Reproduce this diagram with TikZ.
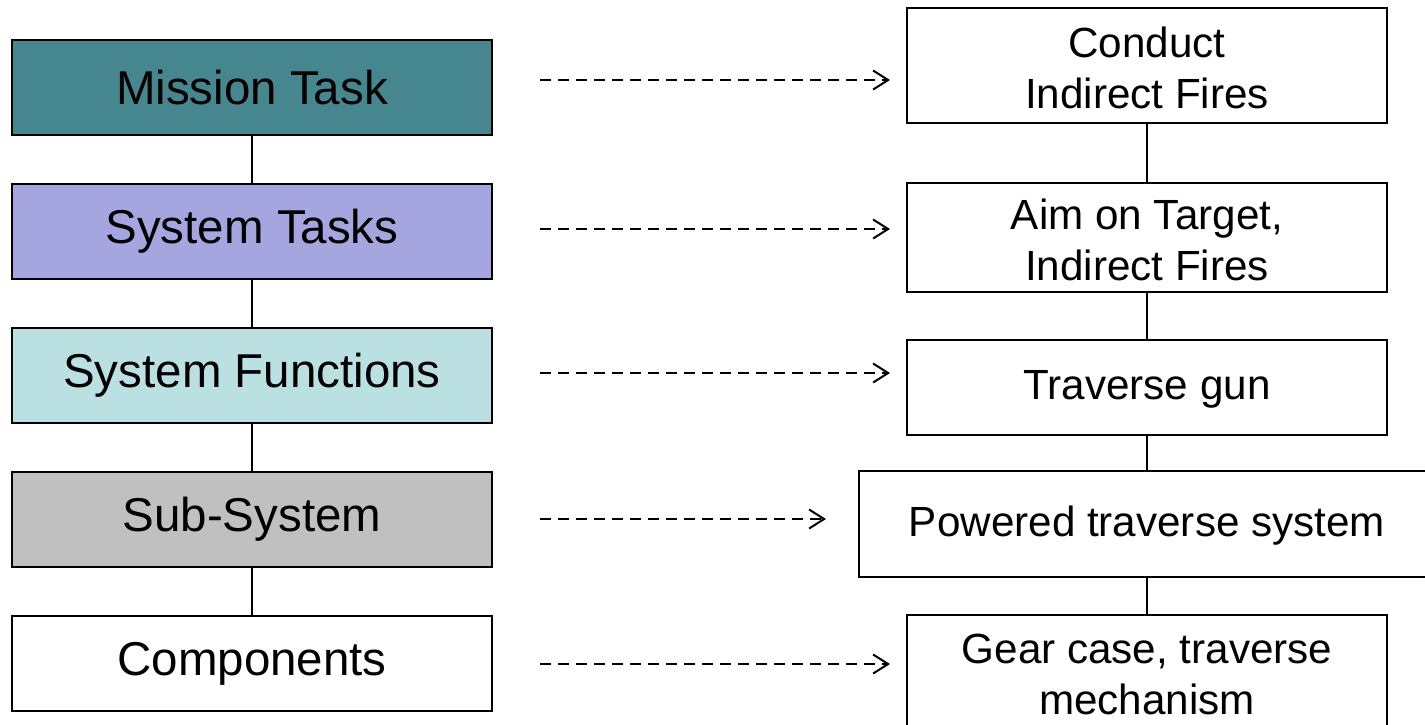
\documentclass[tikz,border=0pt]{standalone}
\usepackage{fontspec}
\setmainfont{Liberation Sans}
\usetikzlibrary{arrows.meta}
\definecolor{mtask}{HTML}{46878F}
\definecolor{stask}{HTML}{A5A5E0}
\definecolor{sfunc}{HTML}{BAE0E2}
\definecolor{ssys}{HTML}{C0C0C0}
\tikzset{
  lvl/.style={draw=black, line width=2pt, minimum width=480pt, minimum height=95pt,
    inner sep=0pt, font=\fontsize{47.5}{52}\selectfont, anchor=north west},
  ex/.style={draw=none, inner sep=0pt, align=center,
    font=\fontsize{42.2}{51}\selectfont},
  exbox/.style={line width=2pt},
  link/.style={line width=1.5pt},
  maps/.style={line width=2pt, dash pattern=on 10.5pt off 7.5pt,
    -{Straight Barb[length=15pt,width=19pt,line width=2pt]}}
}
\begin{document}
\begin{tikzpicture}[x=1pt,y=-1pt]
\useasboundingbox (0,0) rectangle (1425,724);
\clip (0,0) rectangle (1425,724);
% hierarchy levels
\node[lvl, fill=mtask] (l1) at (11,39)  {Mission Task};
\node[lvl, fill=stask] (l2) at (11,183) {System Tasks};
\node[lvl, fill=sfunc] (l3) at (11,327) {System Functions};
\node[lvl, fill=ssys]  (l4) at (11,471) {Sub-System};
\node[lvl, fill=white] (l5) at (11,615) {Components};
\draw[link] (l1.south) -- (l2.north);
\draw[link] (l2.south) -- (l3.north);
\draw[link] (l3.south) -- (l4.north);
\draw[link] (l4.south) -- (l5.north);
% example boxes
\draw[exbox] (907,8) rectangle (1387,123);
\node[ex] (r1) at (1147,68) {Conduct\\Indirect Fires};
\coordinate (r1s) at (1147,123);
\coordinate (r1w) at (907,80);
\draw[exbox] (907,183) rectangle (1387,292);
\node[ex] (r2) at (1147,240) {Aim on Target,\\Indirect Fires};
\coordinate (r2n) at (1147,183);
\coordinate (r2s) at (1147,292);
\coordinate (r2w) at (907,229);
\draw[exbox] (907,340) rectangle (1387,435);
\node[ex] (r3) at (1147,389) {Traverse gun};
\coordinate (r3n) at (1147,340);
\coordinate (r3s) at (1147,435);
\coordinate (r3w) at (907,373);
\draw[exbox] (859,471) rectangle (1440,577);
\node[ex] (r4) at (1147,526) {Powered traverse system};
\coordinate (r4n) at (1147,471);
\coordinate (r4s) at (1147,577);
\coordinate (r4w) at (859,519);
\draw[exbox] (907,615) rectangle (1387,740);
\node[ex] (r5) at (1147,674) {Gear case, traverse\\mechanism};
\coordinate (r5n) at (1147,615);
\coordinate (r5w) at (907,664);
\draw[link] (r1s) -- (r2n);
\draw[link] (r2s) -- (r3n);
\draw[link] (r3s) -- (r4n);
\draw[link] (r4s) -- (r5n);
% mappings from level to example
\coordinate (a1) at (540,80);
\coordinate (a2) at (540,229);
\coordinate (a3) at (540,373);
\coordinate (a4) at (540,519);
\coordinate (a5) at (540,664);
\draw[maps] (a1) -- ([xshift=-17pt]r1w);
\draw[maps] (a2) -- ([xshift=-17pt]r2w);
\draw[maps] (a3) -- ([xshift=-17pt]r3w);
\draw[maps] (a4) -- ([xshift=-33pt]r4w);
\draw[maps] (a5) -- ([xshift=-17pt]r5w);
\end{tikzpicture}
\end{document}
